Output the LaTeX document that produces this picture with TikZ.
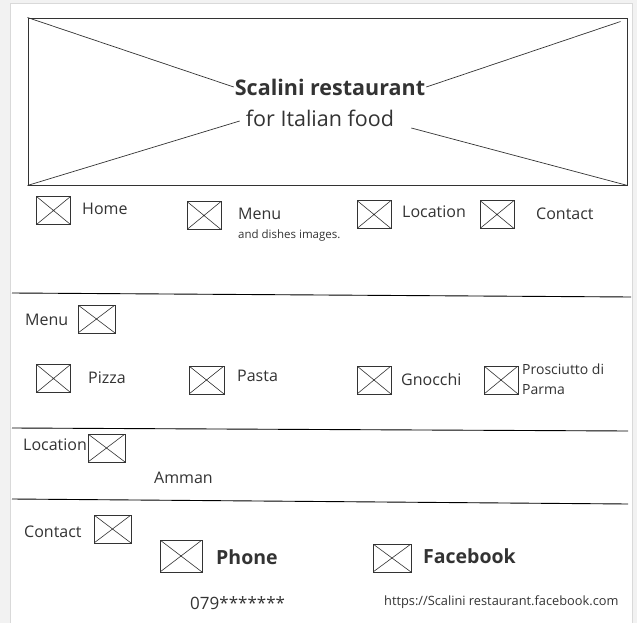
\documentclass[tikz,border=0pt]{standalone}
\usepackage{fontspec}
\setmainfont{Open Sans}
\usepackage{xcolor}
\usetikzlibrary{calc}

\definecolor{ink}{HTML}{333333}
\definecolor{pagebg}{HTML}{F2F2F2}

\begin{document}
\begin{tikzpicture}[x=1pt,y=-1pt,
    imgbox/.style={draw=ink, line width=0.9pt, inner sep=0pt, minimum width=34pt, minimum height=28pt,
        path picture={\draw[ink, line width=0.6pt] (path picture bounding box.north west) -- (path picture bounding box.south east)
            (path picture bounding box.south west) -- (path picture bounding box.north east);}},
    lbl/.style={anchor=west, inner sep=0pt, text=ink, font=\fontsize{16}{18}\selectfont},
    small/.style={anchor=west, inner sep=0pt, text=ink, font=\fontsize{11.5}{13}\selectfont},
    bigb/.style={anchor=west, inner sep=0pt, text=ink, font=\fontsize{19.5}{22}\selectfont\bfseries},
    rule/.style={draw=black, line width=0.9pt}]
    \useasboundingbox (0,0) rectangle (637,623);
    \fill[pagebg] (0,0) rectangle (637,623);
    \draw[gray!30, fill=white] (10,3) rectangle (632,630);

    % header
    \node[draw=ink, line width=0.9pt, minimum width=599pt, minimum height=167pt, inner sep=0pt] (hdr) at (327.5,101.5) {};
    \node[inner sep=1pt, text=ink, font=\fontsize{21.5}{24}\selectfont\bfseries] (title) at (330,87) {Scalini restaurant};
    \node[inner sep=2pt, text=ink, font=\fontsize{21.5}{24}\selectfont] (sub) at (320,118) {for Italian food};
    \draw[ink, line width=0.7pt] (hdr.north west) -- (title.west);
    \draw[ink, line width=0.7pt] ($(hdr.north east)+(-7,4)$) -- (title.east);
    \draw[ink, line width=0.7pt] (hdr.south west) -- ($(sub.west)+(-4,3)$);
    \draw[ink, line width=0.7pt] (hdr.south east) -- ($(sub.east)+(15,10)$);

    % nav
    \node[imgbox] (homeimg) at (53.5,210.5) {};
    \node[lbl] (home) at (82,209) {Home};
    \node[imgbox] (menuimg) at (204,215.5) {};
    \node[lbl] (menu) at (238,214) {Menu};
    \node[small] (dishes) at (238,236) {and dishes images.};
    \node[imgbox] (locimg) at (374,214.5) {};
    \node[lbl] (loc) at (402,212) {Location};
    \node[imgbox] (conimg) at (497,214.5) {};
    \node[lbl] (con) at (536,214) {Contact};

    \coordinate (r1a) at (12,293);
    \coordinate (r1b) at (631,297);
    \draw[rule] (r1a) -- (r1b);

    % menu section
    \node[lbl] (menuh) at (25,320) {Menu};
    \node[imgbox, minimum width=37pt] (menuhimg) at (96.5,319) {};
    \node[imgbox] (pizzaimg) at (53.5,378.5) {};
    \node[lbl] (pizza) at (88,378) {Pizza};
    \node[imgbox, minimum width=35pt] (pastaimg) at (206.5,380) {};
    \node[lbl] (pasta) at (237,376) {Pasta};
    \node[imgbox] (gnimg) at (374,380) {};
    \node[lbl] (gn) at (401,379) {Gnocchi};
    \node[imgbox] (prosimg) at (501,380) {};
    \node[small, font=\fontsize{14}{20}\selectfont, align=left] (pros) at (522,379) {Prosciutto di\\Parma};

    \coordinate (r2a) at (12,428);
    \coordinate (r2b) at (628,431);
    \draw[rule] (r2a) -- (r2b);

    % location section
    \node[lbl] (loch) at (23,445) {Location};
    \node[imgbox, minimum width=37pt] (lochimg) at (106.5,448) {};
    \node[lbl] (amman) at (154,478) {Amman};

    \coordinate (r3a) at (12,499);
    \coordinate (r3b) at (628,504);
    \draw[rule] (r3a) -- (r3b);

    % contact section
    \node[lbl] (conh) at (24,532) {Contact};
    \node[imgbox, minimum width=37pt] (conhimg) at (112.5,529) {};
    \node[imgbox, minimum width=42pt, minimum height=32pt] (phoneimg) at (181,556) {};
    \node[bigb] (phone) at (216,557) {Phone};
    \node[imgbox, minimum width=38pt] (fbimg) at (392,558) {};
    \node[bigb] (fb) at (423,556) {Facebook};
    \node[lbl, font=\fontsize{17}{19}\selectfont] (num) at (190,603) {079*******};
    \node[small, font=\fontsize{12.8}{15}\selectfont] (url) at (384,602) {https://Scalini restaurant.facebook.com};
\end{tikzpicture}
\end{document}
